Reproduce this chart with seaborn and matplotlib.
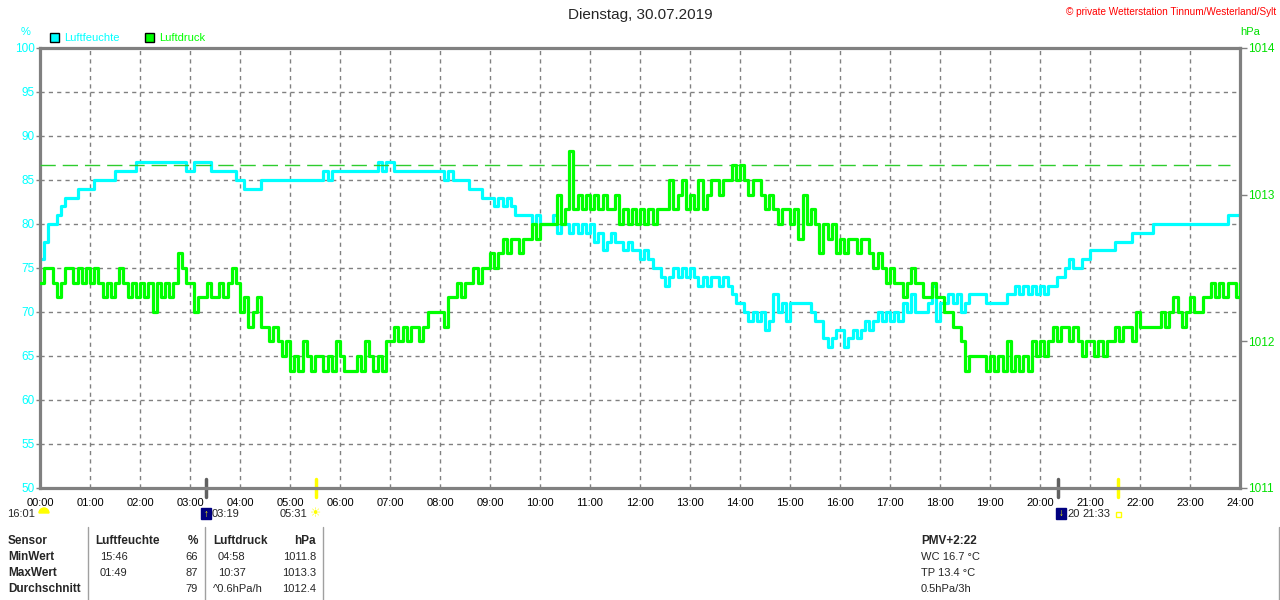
import numpy as np
import pandas as pd
import matplotlib
matplotlib.use("Agg")
import matplotlib.pyplot as plt
from matplotlib.lines import Line2D
from matplotlib.patches import Rectangle, Wedge
import seaborn as sns

# ========== DATA (readings every 5 min, 00:00 .. 24:00) ==========
step_min = 5

# Luftfeuchte in %
humidity = [
    76, 78, 80, 80, 81, 82, 83, 83, 83, 84, 84, 84,   # 00
    84, 85, 85, 85, 85, 85, 86, 86, 86, 86, 86, 87,   # 01
    87, 87, 87, 87, 87, 87, 87, 87, 87, 87, 87, 86,   # 02
    86, 87, 87, 87, 87, 86, 86, 86, 86, 86, 86, 85,   # 03
    85, 84, 84, 84, 84, 85, 85, 85, 85, 85, 85, 85,   # 04
    85, 85, 85, 85, 85, 85, 85, 85, 86, 85, 86, 86,   # 05
    86, 86, 86, 86, 86, 86, 86, 86, 86, 87, 86, 87,   # 06
    87, 86, 86, 86, 86, 86, 86, 86, 86, 86, 86, 86,   # 07
    86, 85, 86, 85, 85, 85, 85, 84, 84, 84, 83, 83,   # 08
    83, 82, 83, 82, 83, 82, 81, 81, 81, 81, 80, 81,   # 09
    80, 80, 80, 81, 79, 80, 80, 79, 80, 79, 80, 79,   # 10
    80, 78, 79, 77, 78, 79, 78, 78, 77, 78, 77, 77,   # 11
    76, 77, 76, 75, 75, 74, 73, 74, 75, 74, 75, 74,   # 12
    75, 74, 73, 74, 73, 74, 74, 73, 74, 73, 72, 71,   # 13
    71, 70, 69, 70, 69, 70, 68, 69, 72, 70, 71, 69,   # 14
    71, 71, 71, 71, 71, 70, 69, 69, 67, 66, 67, 68,   # 15
    68, 66, 67, 68, 67, 68, 69, 68, 69, 70, 69, 70,   # 16
    69, 70, 69, 71, 70, 72, 70, 70, 70, 71, 73, 69,   # 17
    71, 71, 72, 71, 72, 70, 71, 72, 72, 72, 72, 71,   # 18
    71, 71, 71, 71, 72, 72, 73, 72, 73, 72, 73, 72,   # 19
    73, 72, 73, 73, 74, 74, 75, 76, 75, 75, 76, 76,   # 20
    77, 77, 77, 77, 77, 77, 78, 78, 78, 78, 79, 79,   # 21
    79, 79, 79, 80, 80, 80, 80, 80, 80, 80, 80, 80,   # 22
    80, 80, 80, 80, 80, 80, 80, 80, 80, 81, 81, 81,   # 23
    81,
]

# Luftdruck in hPa
pressure = [
    1012.4, 1012.5, 1012.5, 1012.4, 1012.3, 1012.4, 1012.5, 1012.5, 1012.4, 1012.5, 1012.4, 1012.5,  # 00
    1012.4, 1012.5, 1012.4, 1012.3, 1012.4, 1012.3, 1012.4, 1012.5, 1012.4, 1012.3, 1012.4, 1012.3,  # 01
    1012.4, 1012.3, 1012.4, 1012.2, 1012.4, 1012.3, 1012.4, 1012.3, 1012.4, 1012.6, 1012.5, 1012.4,  # 02
    1012.4, 1012.2, 1012.3, 1012.3, 1012.4, 1012.3, 1012.3, 1012.4, 1012.3, 1012.4, 1012.5, 1012.4,  # 03
    1012.2, 1012.3, 1012.1, 1012.2, 1012.3, 1012.1, 1012.1, 1012.0, 1012.1, 1012.0, 1011.9, 1012.0,  # 04
    1011.8, 1011.9, 1011.8, 1012.0, 1011.9, 1011.8, 1011.9, 1011.9, 1011.8, 1011.9, 1011.8, 1012.0,  # 05
    1011.9, 1011.8, 1011.8, 1011.8, 1011.9, 1011.8, 1012.0, 1011.9, 1011.8, 1011.9, 1011.8, 1012.0,  # 06
    1012.0, 1012.1, 1012.0, 1012.1, 1012.0, 1012.1, 1012.1, 1012.0, 1012.1, 1012.2, 1012.2, 1012.2,  # 07
    1012.2, 1012.1, 1012.3, 1012.3, 1012.4, 1012.3, 1012.4, 1012.4, 1012.5, 1012.4, 1012.5, 1012.5,  # 08
    1012.6, 1012.5, 1012.6, 1012.7, 1012.6, 1012.7, 1012.7, 1012.6, 1012.7, 1012.7, 1012.8, 1012.7,  # 09
    1012.8, 1012.8, 1012.8, 1012.8, 1013.0, 1012.8, 1012.9, 1013.3, 1012.9, 1013.0, 1012.9, 1013.0,  # 10
    1012.9, 1013.0, 1012.9, 1013.0, 1012.9, 1012.9, 1013.0, 1012.8, 1012.9, 1012.8, 1012.9, 1012.8,  # 11
    1012.9, 1012.8, 1012.9, 1012.8, 1012.9, 1012.9, 1012.9, 1013.1, 1012.9, 1013.0, 1013.1, 1012.9,  # 12
    1013.0, 1012.9, 1013.1, 1012.9, 1013.0, 1013.1, 1013.1, 1013.0, 1013.1, 1013.1, 1013.2, 1013.1,  # 13
    1013.2, 1013.1, 1013.0, 1013.1, 1013.1, 1013.0, 1012.9, 1013.0, 1012.9, 1012.8, 1012.9, 1012.9,  # 14
    1012.8, 1012.9, 1012.7, 1013.0, 1012.8, 1012.9, 1012.8, 1012.6, 1012.8, 1012.7, 1012.8, 1012.6,  # 15
    1012.7, 1012.6, 1012.7, 1012.7, 1012.6, 1012.7, 1012.7, 1012.6, 1012.5, 1012.6, 1012.5, 1012.4,  # 16
    1012.5, 1012.4, 1012.4, 1012.3, 1012.4, 1012.5, 1012.4, 1012.4, 1012.3, 1012.3, 1012.4, 1012.3,  # 17
    1012.3, 1012.2, 1012.2, 1012.1, 1012.1, 1012.0, 1011.8, 1011.9, 1011.9, 1011.9, 1011.9, 1011.8,  # 18
    1011.9, 1011.8, 1011.9, 1011.8, 1012.0, 1011.8, 1011.9, 1011.8, 1011.9, 1011.8, 1012.0, 1011.9,  # 19
    1012.0, 1011.9, 1012.0, 1012.1, 1012.0, 1012.1, 1012.1, 1012.0, 1012.1, 1012.0, 1011.9, 1012.0,  # 20
    1012.0, 1011.9, 1012.0, 1011.9, 1012.0, 1012.0, 1012.1, 1012.0, 1012.1, 1012.1, 1012.0, 1012.2,  # 21
    1012.1, 1012.1, 1012.1, 1012.1, 1012.1, 1012.2, 1012.1, 1012.2, 1012.3, 1012.2, 1012.1, 1012.2,  # 22
    1012.3, 1012.2, 1012.2, 1012.3, 1012.3, 1012.4, 1012.3, 1012.4, 1012.3, 1012.4, 1012.4, 1012.3,  # 23
    1012.4,
]

ref_pressure = 1013.2          # dashed green reference line
hour_labels = [f"{h:02d}:00" for h in range(25)]
hum_ticks = [50, 55, 60, 65, 70, 75, 80, 85, 90, 95, 100]
hpa_ticks = [1011, 1012, 1013, 1014]

# sun / moon events (hour, colour)
astro_hours = [3 + 19 / 60, 5 + 31 / 60, 20 + 22 / 60, 21 + 33 / 60]
astro_colors = ["#606060", "#ffff00", "#606060", "#ffff00"]

# stats table
table_header = ["Sensor", "Luftfeuchte", "%", "Luftdruck", "hPa"]
row_names = ["MinWert", "MaxWert", "Durchschnitt"]
hum_time = ["15:46", "01:49", ""]
hum_val = ["66", "87", "79"]
hpa_time = ["04:58", "10:37", "^0.6hPa/h"]
hpa_val = ["1011.8", "1013.3", "1012.4"]
extra_info = ["PMV+2:22", "WC 16.7 °C", "TP 13.4 °C", "0.5hPa/3h"]

CYAN = "#00ffff"
GREEN = "#00ff00"
GRAY = "#808080"

# ========== PLOT ==========
sns.set_style("white")
plt.rcParams["font.family"] = ["Liberation Sans", "DejaVu Sans"]

df = pd.DataFrame({
    "hour": np.arange(len(humidity)) * step_min / 60,
    "Luftfeuchte": humidity,
    "Luftdruck": pressure,
})

W, H = 1280, 600
fig = plt.figure(figsize=(W / 100, H / 100), dpi=100)


def px(x, y):
    return x / W, 1 - y / H


ax = fig.add_axes([40 / W, 1 - 488 / H, 1200 / W, 440 / H])
ax2 = ax.twinx()

sns.lineplot(data=df, x="hour", y="Luftfeuchte", ax=ax, color=CYAN, lw=2.3,
             drawstyle="steps-post", estimator=None)
ax2.axhline(ref_pressure, xmax=0.992, color="#2ecc2e", lw=1, dashes=(11, 5))
sns.lineplot(data=df, x="hour", y="Luftdruck", ax=ax2, color=GREEN, lw=2.3,
             drawstyle="steps-post", estimator=None)

ax.set_xlim(0, 24)
ax.set_ylim(50, 100)
ax2.set_ylim(1011, 1014)
ax.set_xticks(range(25))
ax.set_xticklabels(hour_labels)
ax.set_yticks(hum_ticks)
ax2.set_yticks(hpa_ticks)
ax.set_xlabel("")
ax.set_ylabel("")
ax2.set_ylabel("")

ax.grid(True, color=GRAY, ls=(0, (3, 3)), lw=1)
ax.set_axisbelow(True)
for s in ax.spines.values():
    s.set_color(GRAY)
    s.set_linewidth(2.3)
for s in ax2.spines.values():
    s.set_visible(False)

ax.tick_params(axis="x", length=0, pad=7, labelsize=8, labelcolor="black")
ax.tick_params(axis="y", length=3, width=1, color=GRAY, pad=1,
               labelsize=8.5, labelcolor=CYAN)
ax2.tick_params(axis="y", length=5, width=1, color=GRAY, pad=1,
                labelsize=8.5, labelcolor="#00e000")

# sunrise / moonrise markers on the time axis
for hr, c in zip(astro_hours, astro_colors):
    ax.plot([hr, hr], [-0.02, 0.02], color=c, lw=2.5,
            transform=ax.get_xaxis_transform(), clip_on=False)

# titles and units
fig.text(*px(640, 15), "Dienstag, 30.07.2019", ha="center", va="center", fontsize=11)
fig.text(*px(1276, 12), "© private Wetterstation Tinnum/Westerland/Sylt",
         ha="right", va="center", fontsize=7.2, color="#ff0000")
fig.text(*px(26, 32), "%", ha="center", va="center", fontsize=8, color=CYAN)
fig.text(*px(1250, 32), "hPa", ha="center", va="center", fontsize=8, color="#00e000")

# legend boxes
for x0, name, col in [(50, "Luftfeuchte", CYAN), (145, "Luftdruck", GREEN)]:
    fig.add_artist(Rectangle(px(x0, 42), 9 / W, 9 / H, facecolor=col,
                             edgecolor="black", lw=1, transform=fig.transFigure))
    fig.text(*px(x0 + 14, 38), name, ha="left", va="center", fontsize=8, color=col)

# sun / moon row
fig.text(*px(35, 514), "16:01", ha="right", va="center", fontsize=8)
fig.add_artist(Wedge((44, 87), 5, 0, 180, color="#ffff00", transform=None))
fig.add_artist(Rectangle((201, 81), 10, 11, color="#000080", transform=None))
fig.text(*px(206, 514), "↑", ha="center", va="center", fontsize=7, color="#ffff00")
fig.text(*px(212, 514), "03:19", ha="left", va="center", fontsize=8)
fig.text(*px(307, 514), "05:31", ha="right", va="center", fontsize=8)
fig.text(*px(316, 514), "☀", ha="center", va="center", fontsize=9,
         color="#ffff00", family="DejaVu Sans")
fig.add_artist(Rectangle((1056, 81), 10, 11, color="#000080", transform=None))
fig.text(*px(1061, 513), "↓", ha="center", va="center", fontsize=7, color="#ffff00")
fig.text(*px(1067, 514), "20", ha="left", va="center", fontsize=8)
fig.text(*px(1110, 514), "21:33", ha="right", va="center", fontsize=8)
fig.add_artist(Rectangle((1116, 83), 5, 5, facecolor="none", edgecolor="#ffff00",
                         lw=1, transform=None))

# stats table
row_y = [541, 557, 573, 589]
fig.text(*px(8, row_y[0]), table_header[0], ha="left", va="center", fontsize=8.5, weight="bold")
fig.text(*px(95, row_y[0]), table_header[1], ha="left", va="center", fontsize=8.5, weight="bold")
fig.text(*px(198, row_y[0]), table_header[2], ha="right", va="center", fontsize=8.5, weight="bold")
fig.text(*px(213, row_y[0]), table_header[3], ha="left", va="center", fontsize=8.5, weight="bold")
fig.text(*px(316, row_y[0]), table_header[4], ha="right", va="center", fontsize=8.5, weight="bold")
for i, name in enumerate(row_names):
    y = row_y[i + 1]
    fig.text(*px(8, y), name, ha="left", va="center", fontsize=8.5, weight="bold")
    fig.text(*px(100, y), hum_time[i], ha="left", va="center", fontsize=8)
    fig.text(*px(198, y), hum_val[i], ha="right", va="center", fontsize=8)
    fig.text(*px(213 if hpa_time[i].startswith("^") else 218, y), hpa_time[i],
             ha="left", va="center", fontsize=8)
    fig.text(*px(316, y), hpa_val[i], ha="right", va="center", fontsize=8)
for xl in [88, 205, 323]:
    fig.add_artist(Line2D([xl, xl], [0, 600 - 527], color="#a0a0a0", lw=1, transform=None))
fig.add_artist(Line2D([1279, 1279], [0, 600 - 527], color="#a0a0a0", lw=1, transform=None))

for i, txt in enumerate(extra_info):
    fig.text(*px(921, row_y[i]), txt, ha="left", va="center", fontsize=8.5 if i == 0 else 8,
             weight="bold" if i == 0 else "normal")

fig.savefig("out.png", dpi=100)
